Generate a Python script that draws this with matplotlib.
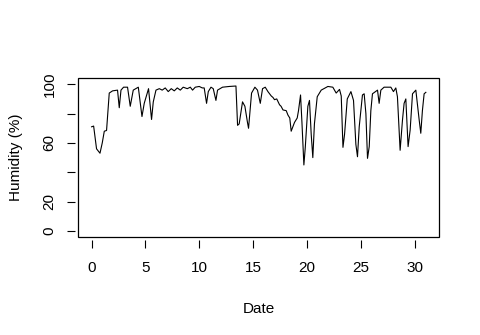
import numpy as np
import matplotlib
matplotlib.use('Agg')
import matplotlib.pyplot as plt
from matplotlib.patches import Rectangle

plt.rcParams['font.family'] = ['Liberation Sans', 'DejaVu Sans']

# 日期（天）与湿度（%）
day = [0.00, 0.19, 0.46, 0.78, 0.99, 1.18, 1.39, 1.64, 1.95, 2.41, 2.57, 2.73,
       2.97, 3.34, 3.59, 3.87, 4.34, 4.68, 4.89, 5.05, 5.29, 5.57, 5.73, 5.98,
       6.29, 6.56, 6.84, 7.12, 7.40, 7.68, 7.96, 8.24, 8.51, 8.89, 9.17, 9.38,
       9.63, 10.00, 10.28, 10.46, 10.68, 10.84, 11.09, 11.30, 11.55, 11.70, 12.16,
       12.79, 13.41, 13.56, 13.71, 14.02, 14.24, 14.48, 14.58, 14.86, 15.17, 15.41,
       15.67, 15.88, 16.13, 16.38, 16.69, 16.85, 16.99, 17.20, 17.46, 17.60, 17.78,
       18.08, 18.24, 18.41, 18.54, 18.70, 18.85, 19.10, 19.22, 19.41, 19.54, 19.72,
       19.85, 20.09, 20.24, 20.40, 20.55, 20.70, 20.96, 21.33, 21.95, 22.41, 22.72,
       23.03, 23.19, 23.35, 23.50, 23.75, 24.09, 24.33, 24.55, 24.70, 24.86, 25.16,
       25.32, 25.48, 25.63, 25.79, 25.94, 26.09, 26.56, 26.71, 26.87, 27.17, 27.80,
       28.04, 28.26, 28.41, 28.66, 28.88, 29.03, 29.19, 29.40, 29.59, 29.81, 30.12,
       30.43, 30.58, 30.73, 30.89, 31.05]
humidity = [71, 71.5, 56, 53, 60, 68, 68.5, 94, 95.5, 96, 84, 96,
            98, 98, 85, 96, 98, 78, 87, 91, 97, 76, 88, 96,
            97, 96, 97.5, 95, 97, 95.5, 97.5, 96, 98, 97, 98, 96,
            98, 98.5, 97.5, 97.5, 87, 95, 98, 97, 89, 96, 98,
            98.5, 98.8, 72, 73, 88, 85, 74, 70, 94, 98, 96,
            87, 97, 98, 95, 92, 91, 89.5, 90, 86, 85, 82.5,
            82, 79, 77, 68, 71, 74, 77, 82, 92.7, 74, 45,
            57, 85, 89, 66, 50, 73, 91.5, 96, 98.5, 98, 94,
            96.5, 92, 57, 66, 90, 95, 89, 59, 50.6, 71, 92.7,
            93.5, 80, 49.5, 57.5, 82, 93.5, 96, 87, 96, 98, 98,
            95, 97.5, 91.5, 55, 75.7, 87, 90, 57.5, 68.7, 93.5, 96,
            75.7, 66.6, 82, 93.5, 94.5]

x_ticks = [0, 5, 10, 15, 20, 25, 30]
y_ticks = [0, 20, 40, 60, 80, 100]
y_labels = ['0', '20', '', '60', '', '100']

fig = plt.figure(figsize=(4.8, 3.35), dpi=100)
ax = fig.add_axes([0.163, 0.293, 0.752, 0.473])

ax.plot(day, humidity, color='black', lw=0.8)
ax.set_xlim(-1.24, 32.29)
ax.set_ylim(-4, 104)

# R 风格坐标轴：刻度与边框分开一点
for s in ['left', 'bottom']:
    ax.spines[s].set_position(('outward', 2))
    ax.spines[s].set_visible(False)
for s in ['top', 'right']:
    ax.spines[s].set_visible(False)
ax.add_patch(Rectangle((0, 0), 1, 1, transform=ax.transAxes, fill=False,
                       edgecolor='black', lw=0.9, clip_on=False))

ax.set_xticks(x_ticks)
ax.set_yticks(y_ticks)
ax.set_yticklabels(y_labels, rotation=90, va='center')
ax.tick_params(axis='both', direction='out', length=5.5, width=0.8, labelsize=11,
               color='black')
ax.tick_params(axis='x', pad=10)
ax.tick_params(axis='y', pad=8)

ax.set_xlabel('Date', fontsize=11, labelpad=19)
ax.set_ylabel('Humidity (%)', fontsize=11, labelpad=14)

fig.savefig('out.png', dpi=100)
